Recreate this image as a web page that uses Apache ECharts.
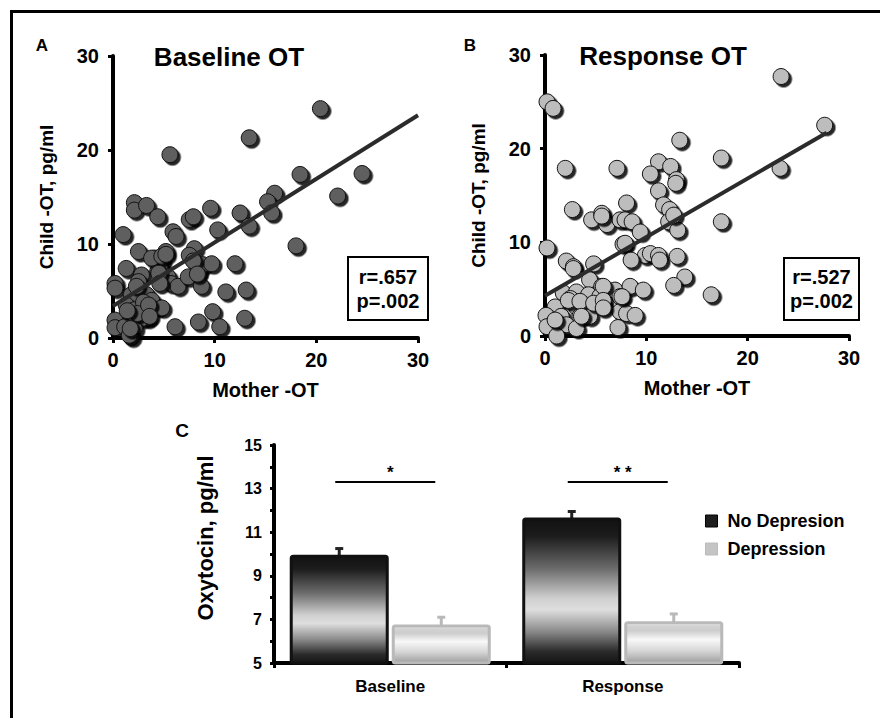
<!DOCTYPE html>
<html><head><meta charset="utf-8">
<script src="https://cdn.jsdelivr.net/npm/echarts@6/dist/echarts.min.js"></script>
<style>html,body{margin:0;padding:0;background:#fff}#c{width:890px;height:728px}</style>
</head><body><div id="c"></div>
<script>
const FONT = '"Liberation Sans", Arial, Helvetica, sans-serif';

// ---------- Panel A: Baseline OT (mother x, child y) ----------
const baselinePoints = [
 [20.4,24.4],[13.4,21.3],[5.6,19.5],[18.4,17.4],[24.5,17.5],[22.1,15.1],[15.9,15.4],[15.2,14.5],[15.6,13.3],[12.5,13.3],[13.4,11.9],[18.0,9.8],
 [2.1,14.4],[2.1,13.6],[3.3,14.1],[4.4,12.9],[9.6,13.8],[7.5,12.6],[7.9,12.9],[10.3,11.5],[5.9,11.3],[6.2,10.8],[1.0,11.0],
 [2.5,9.2],[5.2,9.2],[4.1,8.5],[4.75,8.1],[4.6,7.6],[4.4,7.1],[8.0,9.5],[7.5,8.8],[1.3,7.4],[2.8,6.7],[2.5,6.0],[0.2,5.8],[0.2,5.3],
 [5.4,6.5],[5.7,5.8],[6.4,5.5],[7.4,6.5],[8.4,7.1],[8.85,7.8],[9.7,7.9],[8.7,5.5],[12.0,7.9],[11.1,4.9],[13.1,5.1],
 [3.3,4.6],[1.8,4.6],[1.3,3.5],[2.1,3.0],[3.3,3.3],[4.4,3.3],[3.4,2.1],[2.9,2.1],[0.2,1.9],[0.2,1.1],[1.15,1.2],[2.1,1.0],[1.8,0.1],[1.6,0.3],
 [6.1,1.2],[8.4,1.7],[9.8,2.8],[10.5,1.2],[12.95,2.1],[3.8,4.0],[4.8,3.2],[3.8,8.5],[4.8,8.7],[5.2,8.9],[4.5,6.9],[2.3,5.5],[7.9,8.2],
 [8.3,6.8],[3.0,3.8],[2.4,2.6],[1.4,2.9],[4.6,5.8],[3.5,3.5],[3.6,2.3],[1.7,1.0]
];
const baselineFit = [[0,3.4],[30,23.7]];
const baselineStats = 'r=.657\np=.002';

// ---------- Panel B: Response OT ----------
const responsePoints = [
 [23.3,27.7],[27.6,22.5],[0.2,25.0],[0.8,24.3],[2.0,17.9],[7.1,17.9],[13.3,20.9],[17.4,19.0],[23.2,17.9],[11.2,18.6],[12.4,18.1],[10.4,17.3],
 [12.98,16.7],[12.9,16.3],[11.2,15.5],[8.05,14.2],[11.7,14.0],[12.3,13.5],[12.2,12.2],[13.1,11.3],[17.4,12.2],[2.7,13.5],[4.6,12.4],[5.6,13.1],
 [6.1,11.9],[7.4,12.4],[7.9,12.4],[8.6,12.2],[9.4,11.1],[0.2,9.4],[7.7,9.8],[7.9,9.9],[9.9,8.6],[10.4,8.8],[11.2,8.6],[11.3,8.1],[13.05,8.5],
 [8.5,8.1],[2.1,8.0],[2.8,7.4],[4.8,7.7],[13.8,6.3],[12.7,5.4],[16.4,4.4],[4.4,6.0],[5.6,5.3],[6.9,4.9],[8.4,5.3],[9.7,4.9],[1.8,4.6],
 [3.1,4.7],[4.3,4.4],[5.4,4.2],[7.4,4.2],[2.5,4.0],[1.0,3.1],[3.1,3.1],[4.4,3.1],[5.75,3.3],[7.4,2.6],[8.05,2.4],[8.9,2.2],[0.1,2.2],[1.6,2.1],
 [3.45,2.1],[4.4,2.1],[0.2,1.0],[2.1,1.2],[3.1,0.8],[7.2,0.9],[1.15,0.0],[1.0,1.7],[12.7,12.9],[5.75,5.3],[7.6,4.2],[2.3,3.8],[3.45,3.7],
 [4.8,3.5],[5.75,3.8],[5.75,3.0],[3.6,2.1],[5.6,12.8],[2.8,7.2]
];
const responseFit = [[0,4.3],[27.8,21.7]];
const responseStats = 'r=.527\np=.002';

const scatterTicks = [0,10,20,30];

// ---------- Panel C: bars ----------
const barCategories = ['Baseline','Response'];
const noDepression = [9.9, 11.6];
const noDepressionErr = [0.35, 0.35];
const depression = [6.7, 6.85];
const depressionErr = [0.4, 0.4];
const sigLevel = [13.3, 13.3];
const sigLabels = ['*','* *'];
const barTicks = [5,7,9,11,13,15];

const chart = echarts.init(document.getElementById('c'), null, {renderer:'svg'});

const axisLine = {show:true, onZero:false, lineStyle:{color:'#000', width:4}};
const axisTick = {show:true, length:5, lineStyle:{color:'#000', width:3}};
const nameStyle = {fontFamily:FONT, fontWeight:'bold', fontSize:19, color:'#000'};
const labelStyle = {fontFamily:FONT, fontWeight:'bold', fontSize:20, color:'#000'};

function sx(gi){
  return {gridIndex:gi, type:'value', min:scatterTicks[0], max:scatterTicks[scatterTicks.length-1],
    interval:scatterTicks[1]-scatterTicks[0], name:'Mother -OT', nameLocation:'middle', nameGap:42,
    nameTextStyle:Object.assign({}, nameStyle, {fontSize:20}), axisLine, axisTick, axisLabel:Object.assign({margin:12}, labelStyle), splitLine:{show:false}};
}
function sy(gi){
  return {gridIndex:gi, type:'value', min:scatterTicks[0], max:scatterTicks[scatterTicks.length-1],
    interval:scatterTicks[1]-scatterTicks[0], name:'Child -OT, pg/ml', nameLocation:'middle', nameGap:57, nameRotate:90,
    nameTextStyle:nameStyle, axisLine, axisTick, axisLabel:Object.assign({margin:14}, labelStyle), splitLine:{show:false}};
}
function scatterSeries(gi, data, fill){
  return {type:'scatter', xAxisIndex:gi, yAxisIndex:gi, data, symbolSize:16, clip:false, z:3,
    itemStyle:{color:fill, borderColor:'#111', borderWidth:1, shadowColor:'rgba(0,0,0,0.85)', shadowOffsetX:2.5, shadowOffsetY:2.5, shadowBlur:1, opacity:1},
    emphasis:{disabled:true}};
}
function fitSeries(gi, data){
  return {type:'line', xAxisIndex:gi, yAxisIndex:gi, data, symbol:'none', z:5, clip:false,
    lineStyle:{color:'#2b2b2b', width:4}, emphasis:{disabled:true}};
}

const darkGrad = new echarts.graphic.LinearGradient(0,0,0,1,[
  {offset:0,color:'#121212'},{offset:0.12,color:'#1c1c1c'},{offset:0.35,color:'#6e6e6e'},
  {offset:0.55,color:'#cfcfcf'},{offset:0.63,color:'#dedede'},{offset:0.78,color:'#8a8a8a'},
  {offset:0.92,color:'#2a2a2a'},{offset:1,color:'#151515'}]);
const lightGrad = new echarts.graphic.LinearGradient(0,0,0,1,[
  {offset:0,color:'#f2f2f2'},{offset:0.08,color:'#d2d2d2'},{offset:0.2,color:'#cdcdcd'},
  {offset:0.42,color:'#f8f8f8'},{offset:0.7,color:'#d6d6d6'},{offset:1,color:'#9e9e9e'}]);

const BAR_W = 0.413, BAR_GAP = 0.0625, Y_MIN = barTicks[0];
function barCenter(api, cat, side){
  const band = api.size([1,0])[0];
  const bw = band*BAR_W;
  const off = side*bw*(1+BAR_GAP)/2;
  return {cx: api.coord([cat, Y_MIN])[0] + off, bw};
}
function barRender(side, fill, stroke, errColor){
  return function(params, api){
    const cat = api.value(0), v = api.value(1), e = api.value(2);
    const g = barCenter(api, cat, side);
    const top = api.coord([cat, v])[1], base = api.coord([cat, Y_MIN])[1], et = api.coord([cat, v+e])[1];
    return {type:'group', children:[
      {type:'line', shape:{x1:g.cx, y1:top, x2:g.cx, y2:et}, style:{stroke:errColor, lineWidth:3}},
      {type:'line', shape:{x1:g.cx-4, y1:et, x2:g.cx+4, y2:et}, style:{stroke:errColor, lineWidth:3}},
      {type:'rect', shape:{x:g.cx-g.bw/2, y:top, width:g.bw, height:base-top, r:2}, style:{fill, stroke, lineWidth:3}}
    ]};
  };
}
function sigRender(params, api){
  const cat = api.value(0), v = api.value(1);
  const a = barCenter(api, cat, -1), b = barCenter(api, cat, 1);
  const y = api.coord([cat, v])[1];
  return {type:'group', children:[
    {type:'line', shape:{x1:a.cx-4, y1:y, x2:b.cx-6, y2:y}, style:{stroke:'#000', lineWidth:2}},
    {type:'text', x:(a.cx+b.cx)/2, y:y-10, style:{text:sigLabels[params.dataIndex], fill:'#000', font:'bold 17px '+FONT, textAlign:'center', textVerticalAlign:'middle'}}
  ]};
}

const option = {
  backgroundColor:'#fff',
  animation:false,
  grid:[
    {left:113, top:56, width:305, height:282},
    {left:545, top:55, width:304, height:281},
    {left:274, top:445, width:465, height:218}
  ],
  xAxis:[sx(0), sx(1), {
    gridIndex:2, type:'category', data:barCategories, boundaryGap:true,
    axisLine:{show:true, lineStyle:{color:'#000', width:4}},
    axisTick:{show:true, length:5, lineStyle:{color:'#000', width:3}},
    axisLabel:{fontFamily:FONT, fontWeight:'bold', fontSize:17, color:'#000', margin:15}
  }],
  yAxis:[sy(0), sy(1), {
    gridIndex:2, type:'value', min:barTicks[0], max:barTicks[barTicks.length-1], interval:barTicks[1]-barTicks[0],
    axisLine:{show:true, onZero:false, lineStyle:{color:'#000', width:4}},
    axisTick:{show:true, length:4, lineStyle:{color:'#000', width:3}},
    minorTick:{show:true, splitNumber:2, length:4, lineStyle:{color:'#000', width:3}},
    axisLabel:{fontFamily:FONT, fontWeight:'bold', fontSize:16, color:'#000', margin:12},
    splitLine:{show:false}
  }],
  legend:{
    data:[{name:'No Depresion', itemStyle:{color:'#1e1e1e', borderColor:'#000', borderWidth:1}},
          {name:'Depression', itemStyle:{color:'#c4c4c4', borderColor:'#bbb', borderWidth:1}}],
    orient:'vertical', left:700, top:507, icon:'rect', itemWidth:12, itemHeight:12, itemGap:10, selectedMode:false,
    textStyle:{fontFamily:FONT, fontWeight:'bold', fontSize:18, color:'#000', padding:[0,0,0,5]}
  },
  series:[
    scatterSeries(0, baselinePoints, '#5f5f5f'),
    fitSeries(0, baselineFit),
    scatterSeries(1, responsePoints, '#bdbdbd'),
    fitSeries(1, responseFit),
    {type:'custom', name:'No Depresion', xAxisIndex:2, yAxisIndex:2, itemStyle:{color:'#1e1e1e'},
      data:barCategories.map((c,i)=>[i, noDepression[i], noDepressionErr[i]]), encode:{x:0,y:1},
      renderItem:barRender(-1, darkGrad, '#111', '#222'), z:2},
    {type:'custom', name:'Depression', xAxisIndex:2, yAxisIndex:2, itemStyle:{color:'#c4c4c4'},
      data:barCategories.map((c,i)=>[i, depression[i], depressionErr[i]]), encode:{x:0,y:1},
      renderItem:barRender(1, lightGrad, '#b9b9b9', '#b9b9b9'), z:2},
    {type:'custom', name:'sig', xAxisIndex:2, yAxisIndex:2,
      data:barCategories.map((c,i)=>[i, sigLevel[i]]), encode:{x:0,y:1},
      renderItem:sigRender, z:2}
  ],
  graphic:[
    {type:'line', shape:{x1:10, y1:11.5, x2:880, y2:11.5}, style:{stroke:'#000', lineWidth:3}},
    {type:'line', shape:{x1:11.5, y1:10, x2:11.5, y2:718}, style:{stroke:'#000', lineWidth:3}},
    {type:'text', x:42, y:45, style:{text:'A', font:'bold 17px '+FONT, fill:'#000', textAlign:'center', textVerticalAlign:'middle'}},
    {type:'text', x:470, y:45, style:{text:'B', font:'bold 17px '+FONT, fill:'#000', textAlign:'center', textVerticalAlign:'middle'}},
    {type:'text', x:182, y:430, style:{text:'C', font:'bold 19px '+FONT, fill:'#000', textAlign:'center', textVerticalAlign:'middle'}},
    {type:'text', x:229, y:57, style:{text:'Baseline OT', font:'bold 26px '+FONT, fill:'#000', textAlign:'center', textVerticalAlign:'middle'}},
    {type:'text', x:663, y:56, style:{text:'Response OT', font:'bold 26px '+FONT, fill:'#000', textAlign:'center', textVerticalAlign:'middle'}},
    {type:'rect', shape:{x:348, y:257, width:80, height:63}, style:{fill:'#fff', stroke:'#000', lineWidth:2}, z:10},
    {type:'text', x:388, y:289, z:11, style:{text:baselineStats, font:'bold 20px '+FONT, lineHeight:24, fill:'#000', textAlign:'center', textVerticalAlign:'middle'}},
    {type:'rect', shape:{x:784, y:258, width:75, height:62}, style:{fill:'#fff', stroke:'#000', lineWidth:2}, z:10},
    {type:'text', x:821.5, y:289, z:11, style:{text:responseStats, font:'bold 20px '+FONT, lineHeight:24, fill:'#000', textAlign:'center', textVerticalAlign:'middle'}},
    {type:'text', x:205, y:538, rotation:Math.PI/2, style:{text:'Oxytocin, pg/ml', font:'bold 22px '+FONT, fill:'#000', textAlign:'center', textVerticalAlign:'middle'}}
  ]
};
chart.setOption(option);
</script></body></html>
